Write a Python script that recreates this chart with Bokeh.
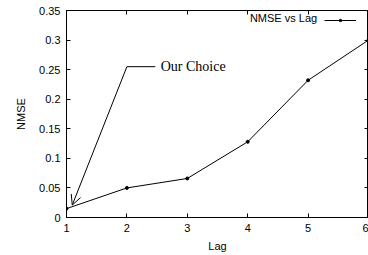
from bokeh.plotting import figure
from bokeh.models import (Range1d, LinearAxis, FixedTicker, NumeralTickFormatter,
                          CustomJSTickFormatter, Legend, LegendItem, Arrow, OpenHead, Label)
from bokeh.embed import file_html
from bokeh.resources import INLINE

# data
lag = [1, 2, 3, 4, 5, 6]
nmse = [0.015, 0.050, 0.066, 0.128, 0.232, 0.300]
x_ticks = [1, 2, 3, 4, 5, 6]
y_ticks = [0, 0.05, 0.1, 0.15, 0.2, 0.25, 0.3, 0.35]
series_name = "NMSE vs Lag"

# annotation ("Our Choice")
ann_text = "Our Choice"
ann_knee = (2.0, 0.255)
ann_tip = (1.095, 0.021)
ann_end_x = 2.47
ann_text_x = 2.56

# legend text anchor (data units, right-aligned)
leg_text_pos = (5.15, 0.3365)

FONT = "Liberation Sans"
FS = "11px"

p = figure(width=368, height=255, output_backend="svg", toolbar_location=None,
           x_range=Range1d(1, 6), y_range=Range1d(0, 0.35),
           x_axis_label="Lag", y_axis_label="NMSE",
           min_border_left=66, min_border_right=0, min_border_top=10, min_border_bottom=38)
p.grid.visible = False
p.outline_line_color = "black"
p.outline_line_width = 1
p.background_fill_color = "white"
p.border_fill_color = "white"

def style_axis(ax, labels=True):
    ax.axis_line_color = "black"
    ax.major_tick_in = 4
    ax.major_tick_out = 0
    ax.minor_tick_line_color = None
    ax.major_tick_line_color = "black"
    if labels:
        ax.major_label_text_font = FONT
        ax.major_label_text_font_size = FS
        ax.major_label_text_color = "black"
        ax.major_label_standoff = 6
        ax.axis_label_text_font = FONT
        ax.axis_label_text_font_size = FS
        ax.axis_label_text_font_style = "normal"
        ax.axis_label_text_color = "black"
    else:
        ax.formatter = CustomJSTickFormatter(code="return ''")
        ax.major_label_standoff = 0

p.xaxis.ticker = FixedTicker(ticks=x_ticks)
p.yaxis.ticker = FixedTicker(ticks=y_ticks)
p.yaxis.formatter = NumeralTickFormatter(format="0.[00]")
style_axis(p.xaxis[0])
style_axis(p.yaxis[0])
p.xaxis.axis_label_standoff = 5
p.yaxis.axis_label_standoff = 9

top = LinearAxis(ticker=FixedTicker(ticks=x_ticks))
style_axis(top, labels=False)
p.add_layout(top, "above")
right = LinearAxis(ticker=FixedTicker(ticks=y_ticks))
style_axis(right, labels=False)
p.add_layout(right, "right")

ln = p.line(lag, nmse, line_color="black", line_width=1)
pts = p.scatter(lag, nmse, size=3, color="black")

# annotation
p.add_layout(Arrow(end=OpenHead(size=10, line_color="black", line_width=1),
                   x_start=ann_knee[0], y_start=ann_knee[1],
                   x_end=ann_tip[0], y_end=ann_tip[1],
                   line_color="black", line_width=1))
p.line([ann_knee[0], ann_end_x], [ann_knee[1], ann_knee[1]], line_color="black", line_width=1)
p.add_layout(Label(x=ann_text_x, y=ann_knee[1], text=ann_text, text_font="Liberation Serif",
                   text_font_size="14px", text_baseline="middle", text_color="black"))

# legend: text on the left, sample on the right
p.add_layout(Label(x=leg_text_pos[0], y=leg_text_pos[1], text=series_name,
                   text_font=FONT, text_font_size=FS, text_align="right",
                   text_baseline="middle", text_color="black"))
legend = Legend(items=[LegendItem(label="", renderers=[ln, pts])],
                location=(258, 194), glyph_width=32, glyph_height=6,
                label_width=0, label_height=6, label_standoff=0,
                background_fill_alpha=0, border_line_color=None,
                margin=0, padding=0, spacing=0)
p.add_layout(legend)

open("out.html", "w").write(file_html(p, INLINE))
